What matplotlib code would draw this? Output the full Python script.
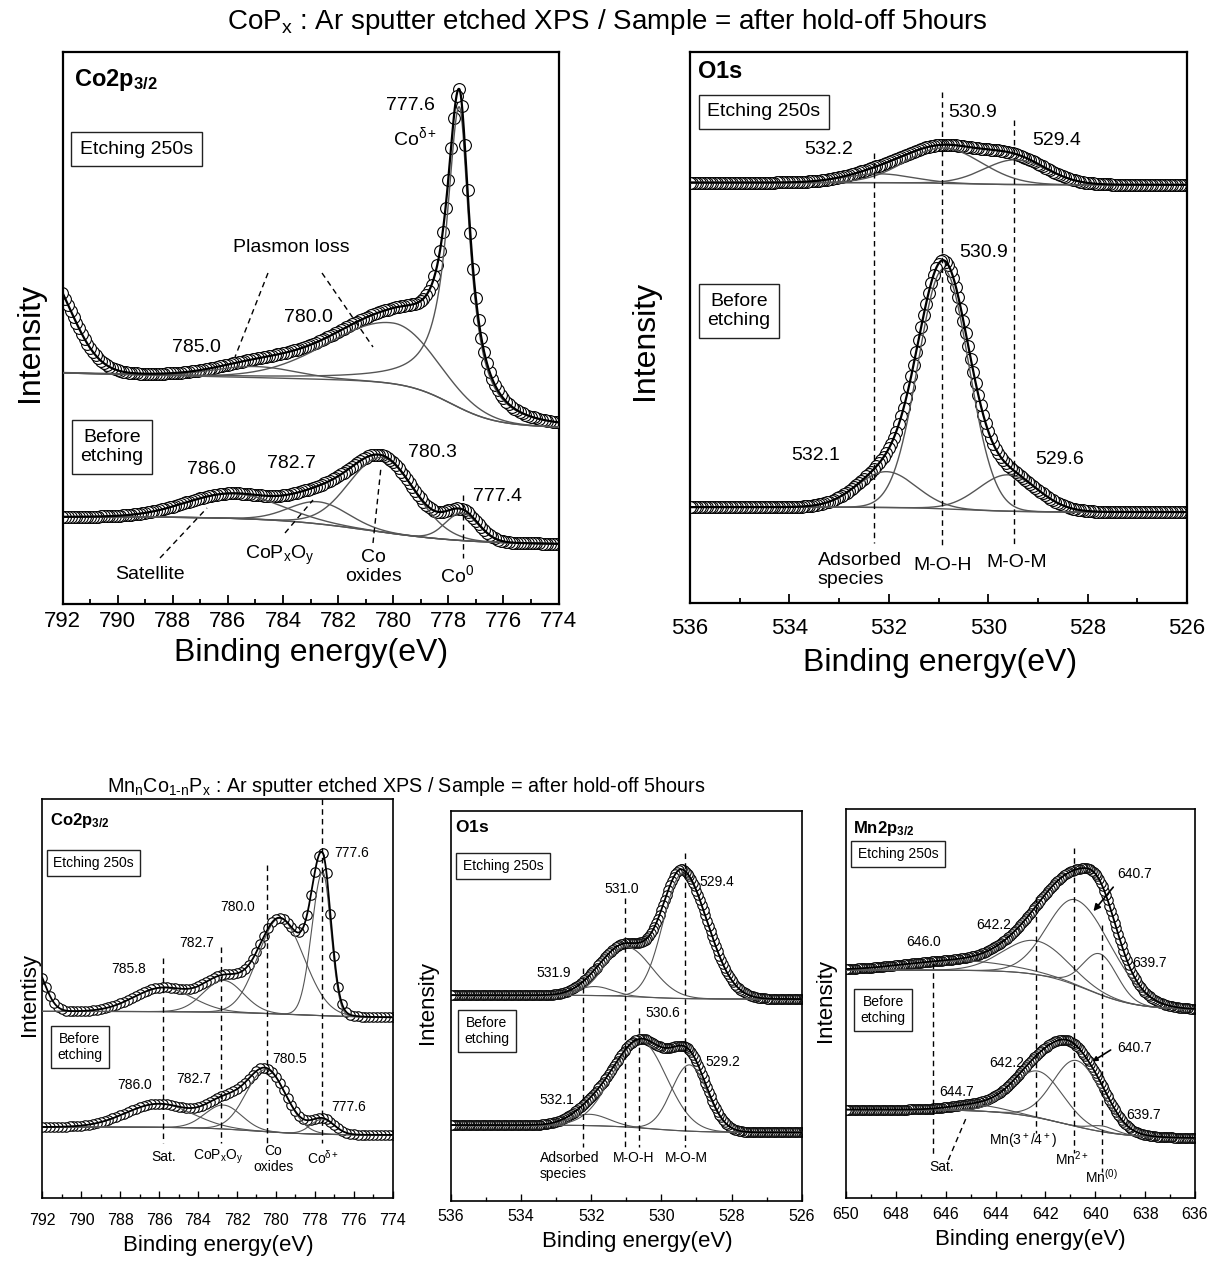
import numpy as np
import matplotlib
matplotlib.use("Agg")
import matplotlib.pyplot as plt
from matplotlib.ticker import MultipleLocator

plt.rcParams['font.family'] = ['Liberation Sans', 'DejaVu Sans']
plt.rcParams['mathtext.fontset'] = 'custom'
plt.rcParams['mathtext.rm'] = 'Liberation Sans'
plt.rcParams['mathtext.it'] = 'Liberation Sans:italic'
plt.rcParams['mathtext.bf'] = 'Liberation Sans:bold'
plt.rcParams['mathtext.default'] = 'regular'

# ------------------------------------------------------------------
# DATA (peak-fit parameters; y in % of panel height)
# background params: [high-BE level, low-BE level, step centre, step width, slope]
# ------------------------------------------------------------------
# Top-left : CoPx  Co2p3/2
tl_etch_center = [777.6, 780.0, 785.0, 792.8]
tl_etch_height = [54.5, 11.0, 2.0, 19.2]
tl_etch_fwhm_l = [1.1, 5.5, 3.5, 2.5]
tl_etch_fwhm_r = [0.9, 3.6, 3.5, 2.5]
tl_etch_eta = [1.0, 0.0, 0.0, 0.0]
tl_etch_drawn = [True, True, True, False]
tl_etch_bg = [39.7, 32.0, 777.9, 0.8, 0.12]

tl_before_center = [780.4, 782.7, 785.8, 777.5]
tl_before_height = [13.5, 4.0, 4.5, 5.0]
tl_before_fwhm_l = [2.8, 2.5, 4.0, 1.4]
tl_before_fwhm_r = [2.8, 2.5, 4.0, 1.4]
tl_before_bg = [15.8, 10.8, 780.8, 1.8, 0.0]

# Top-right : CoPx  O1s
tr_etch_center = [530.9, 529.45, 532.2]
tr_etch_height = [6.4, 4.5, 1.6]
tr_etch_fwhm = [1.8, 1.5, 1.6]
tr_etch_bg = [76.3, 75.9, 530.5, 0.5, 0.0]

tr_before_center = [530.9, 532.05, 529.6]
tr_before_height = [43.5, 6.5, 6.6]
tr_before_fwhm = [1.2, 1.4, 1.4]
tr_before_bg = [17.4, 16.5, 530.5, 0.6, 0.0]

# Bottom-left : MnnCo1-nPx  Co2p3/2
bl_etch_center = [777.6, 779.8, 782.7, 785.8, 792.5]
bl_etch_height = [36.0, 24.0, 8.0, 6.0, 12.0]
bl_etch_fwhm_l = [1.3, 2.6, 2.4, 3.5, 1.4]
bl_etch_fwhm_r = [1.0, 2.9, 2.4, 3.5, 1.4]
bl_etch_drawn = [True, True, True, True, False]
bl_etch_bg = [46.8, 45.2, 779.0, 2.0, 0.0]

bl_before_center = [780.5, 782.7, 786.0, 777.6]
bl_before_height = [15.6, 6.0, 5.9, 3.8]
bl_before_fwhm = [2.4, 2.2, 4.0, 1.4]
bl_before_bg = [17.8, 15.8, 781.0, 1.5, 0.0]

# Bottom-middle : MnnCo1-nPx  O1s
bm_etch_center = [529.4, 531.0, 531.9]
bm_etch_height = [32.0, 12.7, 2.3]
bm_etch_fwhm_l = [1.3, 1.45, 1.2]
bm_etch_fwhm_r = [1.7, 1.7, 1.2]
bm_etch_bg = [52.7, 51.7, 530.5, 0.6, 0.0]

bm_before_center = [530.6, 529.2, 532.05]
bm_before_height = [22.4, 17.0, 2.9]
bm_before_fwhm_l = [1.85, 1.2, 1.3]
bm_before_fwhm_r = [1.75, 1.2, 1.3]
bm_before_bg = [19.4, 17.5, 530.3, 0.7, 0.0]

# Bottom-right : MnnCo1-nPx  Mn2p3/2
br_etch_center = [640.75, 642.4, 639.8, 645.5]
br_etch_height = [22.0, 8.7, 10.5, 2.5]
br_etch_fwhm_l = [2.7, 3.0, 1.6, 5.0]
br_etch_fwhm_r = [3.3, 3.0, 1.6, 5.0]
br_etch_bg = [58.6, 48.4, 640.3, 1.0, 0.0]

br_before_center = [640.75, 642.3, 639.7, 644.7]
br_before_height = [17.0, 12.0, 1.5, 1.5]
br_before_fwhm_l = [2.2, 2.4, 1.2, 2.5]
br_before_fwhm_r = [2.35, 2.35, 1.2, 2.5]
br_before_bg = [22.7, 15.3, 641.2, 1.2, 0.0]

# ------------------------------------------------------------------
W, H = 1215, 1261
fig = plt.figure(figsize=(W / 100, H / 100), dpi=100)
fig.patch.set_facecolor('white')

COMP_C = '#555555'


def profile(E, c, h, fl, fr, eta=0.0):
    f = np.where(E >= c, fl, fr)
    x = (E - c) / f
    g = np.exp(-4 * np.log(2) * x ** 2)
    lz = 1.0 / (1 + 4 * x ** 2)
    return h * ((1 - eta) * g + eta * lz)


def background(E, p, emin):
    hi, lo, c, w, slope = p
    return lo + (hi - lo) / (1 + np.exp(-(E - c) / w)) + slope * (E - emin)


class Panel:
    def __init__(self, l, t, r, b, xlim, spine_w, tick_major, tick_minor, labelsize, pad):
        self.l, self.t, self.r, self.b, self.xlim = l, t, r, b, xlim
        ax = fig.add_axes([l / W, 1 - b / H, (r - l) / W, (b - t) / H])
        ax.set_xlim(*xlim)
        ax.set_ylim(0, 100)
        ax.set_yticks([])
        ax.xaxis.set_major_locator(MultipleLocator(2))
        ax.xaxis.set_minor_locator(MultipleLocator(1))
        ax.tick_params(axis='x', which='both', direction='in', top=False, width=spine_w * 0.8)
        ax.tick_params(axis='x', which='major', length=tick_major, labelsize=labelsize, pad=pad)
        ax.tick_params(axis='x', which='minor', length=tick_minor)
        for s in ax.spines.values():
            s.set_linewidth(spine_w)
        self.ax = ax

    def E(self, x):
        return self.xlim[0] + (x - self.l) / (self.r - self.l) * (self.xlim[1] - self.xlim[0])

    def U(self, y):
        return (self.b - y) / (self.b - self.t) * 100

    def spectrum(self, step, centers, heights, fl, fr, eta, drawn, bgp, ms, lw_env, lw_comp):
        emin = min(self.xlim)
        emax = max(self.xlim)
        Ef = np.linspace(emin, emax, 1500)
        Ep = np.arange(emin, emax + 1e-9, step)
        if eta is None:
            eta = [0.0] * len(centers)
        if drawn is None:
            drawn = [True] * len(centers)
        bg_f = background(Ef, bgp, emin)
        bg_p = background(Ep, bgp, emin)
        tot_f = bg_f.copy()
        tot_p = bg_p.copy()
        comps = []
        for c, h, a, b_, e, d in zip(centers, heights, fl, fr, eta, drawn):
            pf = profile(Ef, c, h, a, b_, e)
            tot_f += pf
            tot_p += profile(Ep, c, h, a, b_, e)
            if d:
                comps.append(pf)
        ax = self.ax
        ax.plot(Ep, tot_p, 'o', mfc='white', mec='black', ms=ms, mew=0.8, zorder=2)
        for pf in comps:
            ax.plot(Ef, bg_f + pf, color=COMP_C, lw=lw_comp, zorder=3)
        ax.plot(Ef, bg_f, color=COMP_C, lw=lw_comp, zorder=3)
        ax.plot(Ef, tot_f, color='black', lw=lw_env, zorder=4)

    def vline(self, E, y0, y1, lw=1.0):
        self.ax.plot([E, E], [self.U(y0), self.U(y1)], color='black', lw=lw,
                     ls=(0, (4, 3)), zorder=5)

    def seg(self, x0, y0, x1, y1, lw=1.0):
        self.ax.plot([self.E(x0), self.E(x1)], [self.U(y0), self.U(y1)], color='black',
                     lw=lw, ls=(0, (4, 3)), zorder=5)


def txt(x, y, s, size, ha='center', va='center', **kw):
    return fig.text(x / W, 1 - y / H, s, fontsize=size, ha=ha, va=va, **kw)


def boxtxt(x, y, s, size, pad=0.45, lw=1.0):
    return fig.text(x / W, 1 - y / H, s, fontsize=size, ha='center', va='center',
                    multialignment='center', linespacing=1.15,
                    bbox=dict(boxstyle='square,pad=%.2f' % pad, fc='white', ec='#222222', lw=lw))


# ------------------------------------------------------------------
# Titles
txt(607, 22, r'CoP$_x$ : Ar sputter etched XPS / Sample = after hold-off 5hours', 20)
txt(107, 787, 'Mn$_n$Co$_{1\u2010n}$P$_x$ : Ar sputter etched XPS / Sample = after hold-off 5hours',
    14.2, ha='left')

MS_TOP = 8.5
MS_BOT = 6.8

# ------------------------------------------------------------------
# Top-left panel
TL = Panel(62.5, 52, 558.5, 604, (792, 774), 1.6, 6.5, 3.4, 16, 5)
TL.spectrum(0.1, tl_etch_center, tl_etch_height, tl_etch_fwhm_l, tl_etch_fwhm_r,
            tl_etch_eta, tl_etch_drawn, tl_etch_bg, MS_TOP, 1.6, 1.0)
TL.spectrum(0.1, tl_before_center, tl_before_height, tl_before_fwhm_l, tl_before_fwhm_r,
            None, None, tl_before_bg, MS_TOP, 1.6, 1.0)
txt(74, 80, r'$\mathbf{Co2p_{3/2}}$', 17, ha='left')
boxtxt(136.5, 149, 'Etching 250s', 14)
txt(410, 105, '777.6', 14)
txt(415, 137, r'Co$^{δ+}$', 14)
txt(291, 248, 'Plasmon loss', 14)
txt(308, 317, '780.0', 14)
txt(196, 347, '785.0', 14)
boxtxt(112, 447, 'Before\netching', 14)
txt(211, 470, '786.0', 14)
txt(291, 463, '782.7', 14)
txt(432, 452, '780.3', 14)
txt(497, 497, '777.4', 14)
txt(150, 575, 'Satellite', 14)
txt(280, 555, r'CoP$_x$O$_y$', 14)
txt(373, 567, 'Co\noxides', 14, multialignment='center', linespacing=1.15)
txt(457.5, 575, r'Co$^0$', 14)
TL.seg(268, 273, 235, 357)
TL.seg(322, 273, 373, 347)
TL.seg(160, 558, 207, 508)
TL.seg(285, 533, 313, 500)
TL.seg(373, 543, 381, 467)
TL.vline(777.45, 495, 558)
txt(311, 653, 'Binding energy(eV)', 23)
txt(30, 342, 'Intensity', 23, rotation=90)

# ------------------------------------------------------------------
# Top-right panel
TR = Panel(690, 52, 1187, 603, (536, 526), 1.6, 6.5, 3.4, 16, 11)
TR.spectrum(0.05, tr_etch_center, tr_etch_height, tr_etch_fwhm, tr_etch_fwhm,
            None, None, tr_etch_bg, MS_TOP, 1.6, 1.0)
TR.spectrum(0.05, tr_before_center, tr_before_height, tr_before_fwhm, tr_before_fwhm,
            None, None, tr_before_bg, MS_TOP, 1.6, 1.0)
txt(697, 72, r'$\mathbf{O1s}$', 17, ha='left')
boxtxt(764, 112, 'Etching 250s', 14)
txt(829, 150, '532.2', 14)
txt(972.7, 112.7, '530.9', 14)
txt(1057, 140.7, '529.4', 14)
boxtxt(739, 311, 'Before\netching', 14)
txt(984, 253, '530.9', 14)
txt(815.6, 455, '532.1', 14)
txt(1060, 459, '529.6', 14)
txt(817.5, 570, 'Adsorbed\nspecies', 14, ha='left', linespacing=1.1)
txt(943, 565, 'M-O-H', 14)
txt(1016.5, 562.7, 'M-O-M', 14)
TR.vline(532.3, 153, 543)
TR.vline(530.92, 92, 545)
TR.vline(529.48, 120, 545)
txt(940, 663, 'Binding energy(eV)', 23)
txt(645, 340, 'Intensity', 23, rotation=90)

# ------------------------------------------------------------------
# Bottom-left panel
BL = Panel(42.3, 799.3, 392.7, 1198, (792, 774), 1.2, 4.8, 2.9, 11.5, 11)
BL.spectrum(0.2, bl_etch_center, bl_etch_height, bl_etch_fwhm_l, bl_etch_fwhm_r,
            None, bl_etch_drawn, bl_etch_bg, MS_BOT, 1.3, 0.8)
BL.spectrum(0.2, bl_before_center, bl_before_height, bl_before_fwhm, bl_before_fwhm,
            None, None, bl_before_bg, MS_BOT, 1.3, 0.8)
txt(50, 820, r'$\mathbf{Co2p_{3/2}}$', 12, ha='left')
boxtxt(93.7, 863, 'Etching 250s', 10)
txt(351.7, 853.3, '777.6', 10)
txt(237.3, 906.7, '780.0', 10)
txt(196.7, 943.3, '782.7', 10)
txt(128.3, 969.3, '785.8', 10)
boxtxt(80, 1047, 'Before\netching', 10)
txt(290, 1059, '780.5', 10)
txt(135, 1085, '786.0', 10)
txt(193.3, 1079.3, '782.7', 10)
txt(348.3, 1106.7, '777.6', 10)
txt(163.3, 1156.7, 'Sat.', 10)
txt(218.3, 1156.7, r'CoP$_x$O$_y$', 10)
txt(273.3, 1159, 'Co\noxides', 10, multialignment='center', linespacing=1.1)
txt(322.7, 1157.3, r'Co$^{δ+}$', 10)
BL.vline(785.78, 958, 1143)
BL.vline(782.84, 946.7, 1143)
BL.vline(780.44, 865, 1143)
BL.vline(777.65, 799.3, 1143)
txt(218, 1246, 'Binding energy(eV)', 16)
txt(29, 995, 'Intentisy', 16, rotation=90)

# ------------------------------------------------------------------
# Bottom-middle panel
BM = Panel(451, 810.7, 801.7, 1200.7, (536, 526), 1.2, 4.8, 2.9, 11.5, 6)
BM.spectrum(0.05, bm_etch_center, bm_etch_height, bm_etch_fwhm_l, bm_etch_fwhm_r,
            None, None, bm_etch_bg, MS_BOT, 1.3, 0.8)
BM.spectrum(0.05, bm_before_center, bm_before_height, bm_before_fwhm_l, bm_before_fwhm_r,
            None, None, bm_before_bg, MS_BOT, 1.3, 0.8)
txt(455, 826.7, r'$\mathbf{O1s}$', 12.5, ha='left')
boxtxt(503, 866, 'Etching 250s', 10)
txt(716.7, 881.7, '529.4', 10)
txt(621.7, 889.3, '531.0', 10)
txt(553.3, 973.3, '531.9', 10)
boxtxt(487, 1031, 'Before\netching', 10)
txt(663.3, 1013.3, '530.6', 10)
txt(723.3, 1061.7, '529.2', 10)
txt(556.7, 1100, '532.1', 10)
txt(540, 1165.7, 'Adsorbed\nspecies', 10, ha='left', linespacing=1.15)
txt(633.3, 1158.3, 'M-O-H', 10)
txt(686.7, 1158.3, 'M-O-M', 10)
BM.vline(532.25, 968.3, 1146.7)
BM.vline(531.04, 898.3, 1146.7)
BM.vline(530.65, 1018.3, 1146.7)
BM.vline(529.33, 853.3, 1146.7)
txt(637, 1242, 'Binding energy(eV)', 16)
txt(427, 1003, 'Intensity', 16, rotation=90)

# ------------------------------------------------------------------
# Bottom-right panel
BR = Panel(846, 809.3, 1195, 1197.7, (650, 636), 1.2, 4.8, 2.9, 11.5, 6.7)
BR.spectrum(0.07, br_etch_center, br_etch_height, br_etch_fwhm_l, br_etch_fwhm_r,
            None, None, br_etch_bg, MS_BOT, 1.3, 0.8)
BR.spectrum(0.07, br_before_center, br_before_height, br_before_fwhm_l, br_before_fwhm_r,
            None, None, br_before_bg, MS_BOT, 1.3, 0.8)
txt(853.3, 828.3, r'$\mathbf{Mn2p_{3/2}}$', 12, ha='left')
boxtxt(898, 854, 'Etching 250s', 10)
txt(1135, 874, '640.7', 10)
txt(993.3, 925, '642.2', 10)
txt(923.3, 942.3, '646.0', 10)
txt(1150, 963.3, '639.7', 10)
boxtxt(883, 1010, 'Before\netching', 10)
txt(1006.7, 1063.3, '642.2', 10)
txt(956.7, 1091.7, '644.7', 10)
txt(1135, 1048.3, '640.7', 10)
txt(1143.3, 1115, '639.7', 10)
txt(941.7, 1166.7, 'Sat.', 10)
txt(1023.3, 1141.7, r'Mn(3$^+$/4$^+$)', 10)
txt(1071.7, 1158.3, r'Mn$^{2+}$', 10)
txt(1101.7, 1176.7, r'Mn$^{(0)}$', 10)
BR.seg(948.3, 1160, 966.7, 1116.7)
BR.vline(646.5, 963.3, 1156.7)
BR.vline(642.38, 896.7, 1133.3)
BR.vline(640.85, 848.3, 1153.3)
BR.vline(639.74, 925, 1171.7)
BR.ax.annotate('', xy=(BR.E(1091.7), BR.U(913.3)), xytext=(BR.E(1115), BR.U(885)),
               arrowprops=dict(arrowstyle='-|>', color='black', lw=1.2, mutation_scale=10),
               zorder=6)
BR.ax.annotate('', xy=(BR.E(1090), BR.U(1063)), xytext=(BR.E(1113), BR.U(1048.5)),
               arrowprops=dict(arrowstyle='-|>', color='black', lw=1.2, mutation_scale=7),
               zorder=6)
txt(1030, 1240, 'Binding energy(eV)', 16)
txt(826, 1001, 'Intensity', 16, rotation=90)

fig.savefig('out.png', dpi=100, facecolor='white')
